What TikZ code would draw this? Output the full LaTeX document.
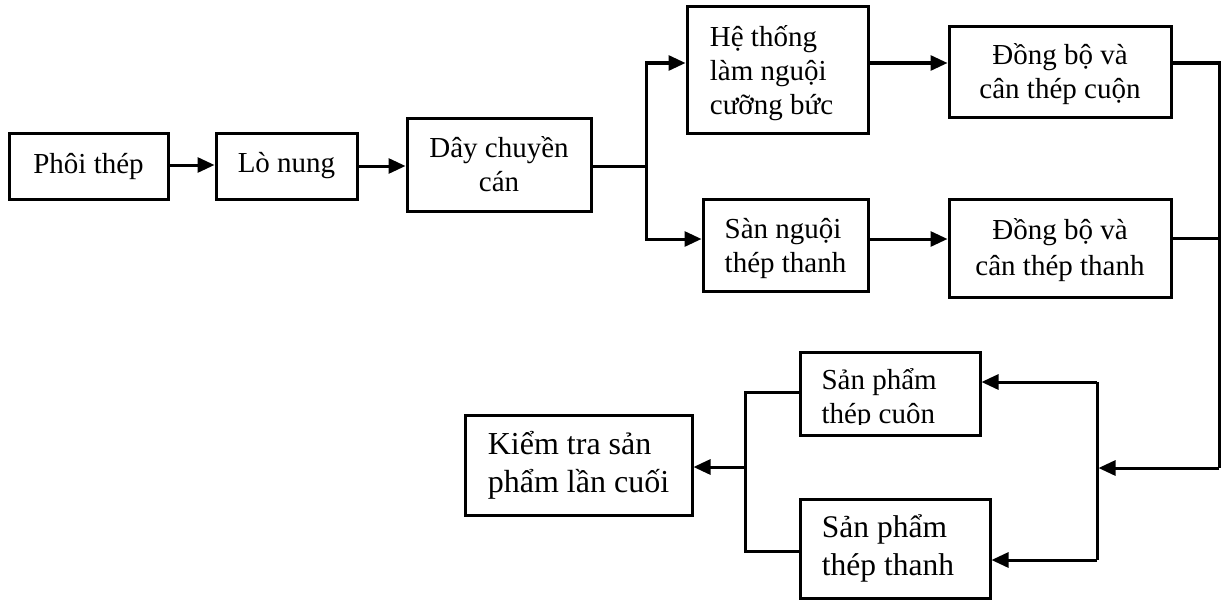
\documentclass[tikz,border=0pt]{standalone}
\usepackage{fontspec}
\setmainfont{Liberation Serif}
\usetikzlibrary{arrows.meta}

\begin{document}
\begin{tikzpicture}[
  x=1pt, y=-1pt,
  line width=3pt,
  box/.style={draw, rectangle, inner sep=0pt, minimum width=#1},
  txt/.style={font=\fontsize{29}{34}\selectfont},
  bigtxt/.style={font=\fontsize{31.5}{38}\selectfont},
  btext/.style={inner sep=0pt, align=left},
  arr/.style={-{Triangle[length=17pt,width=15pt]}},
]
\useasboundingbox (0,0) rectangle (1225,602);

% process boxes
\node[box=159pt, minimum height=66pt, txt] (phoi) at (88.5,166) {Phôi thép};
\node[box=141pt, minimum height=66pt, txt] (lo) at (286.5,166) {Lò nung};
\node[box=184pt, minimum height=93pt, txt, align=center] (day) at (499,164.5) {Dây chuyền\\cán};
\node[box=181pt, minimum height=126pt] (he) at (777.5,70) {};
\node[box=165pt, minimum height=92pt] (san) at (785.5,245) {};
\node[box=222pt, minimum height=90pt] (dbc) at (1060,72) {};
\node[box=222pt, minimum height=98pt] (dbt) at (1060,248) {};
\node[box=180pt, minimum height=83pt] (spc) at (890,393.5) {};
\node[box=190pt, minimum height=99pt] (spt) at (895,548.5) {};
\node[box=227pt, minimum height=100pt, font=\fontsize{32}{38}\selectfont, align=left] (kt) at (578.5,465) {Kiểm tra sản\\phẩm lần cuối};

% box texts
\node[btext, txt] (he-t) at ([xshift=-6pt, yshift=-3pt]he.center) {Hệ thống\\làm nguội\\cưỡng bức};
\node[btext, txt] (san-t) at ([yshift=-3pt]san.center) {Sàn nguội\\thép thanh};
\node[btext, txt, align=center] (dbc-t) at ([yshift=-2pt]dbc.center) {Đồng bộ và\\cân thép cuộn};
\node[btext, align=center, font=\fontsize{29}{35.5}\selectfont] (dbt-t) at ([yshift=-2pt]dbt.center) {Đồng bộ và\\cân thép thanh};
\node[btext, bigtxt] (spt-t) at ([xshift=-7pt]spt.center) {Sản phẩm\\thép thanh};

% text of the coil product box, cut off by its frame
\begin{scope}
  \clip (spc.north west) rectangle (spc.east |- 0,424);
  \node[btext, txt, anchor=north west] (spc-t) at (820,367) {Sản phẩm\\thép cuôn};
\end{scope}

% junction points
\coordinate (split) at (646,166);
\coordinate (ju) at (646,63);
\coordinate (jd) at (646,239);
\coordinate (rtop) at (1219,63);
\coordinate (rmid) at (1219,238);
\coordinate (rbot) at (1219,468);
\coordinate (bbtop) at (1097,382);
\coordinate (bbbot) at (1097,560);
\coordinate (bbmid) at (1098.5,468);
\coordinate (lbtop) at (745,392);
\coordinate (lbbot) at (745,551);
\coordinate (lbmid) at (745,467);

% main line
\draw[arr] (phoi.east |- 0,165) -- (lo.west |- 0,165);
\draw[arr] (lo.east |- 0,166) -- (day.west |- 0,166);
\draw (day.east |- split) -- (split);
\draw[arr] (split) -- (ju) -- (he.west |- ju);
\draw[arr] (split) -- (jd) -- (san.west |- jd);
\draw[arr] (he.east |- ju) -- (dbc.west |- ju);
\draw[arr] (san.east |- jd) -- (dbt.west |- jd);

% collecting bus on the right
\draw (dbc.east |- rtop) -- (rtop) -- (rbot);
\draw (dbt.east |- rmid) -- (rmid);
\draw[arr] (rbot) -- (bbmid);

% distribution to products
\draw (bbtop) -- (bbbot);
\draw[arr] (bbtop) -- (spc.east |- bbtop);
\draw[arr] (bbbot) -- (spt.east |- bbbot);

% products to final inspection
\draw (spc.west |- lbtop) -- (lbtop) -- (lbbot) -- (spt.west |- lbbot);
\draw[arr] (lbmid) -- (kt.east |- lbmid);
\end{tikzpicture}
\end{document}
